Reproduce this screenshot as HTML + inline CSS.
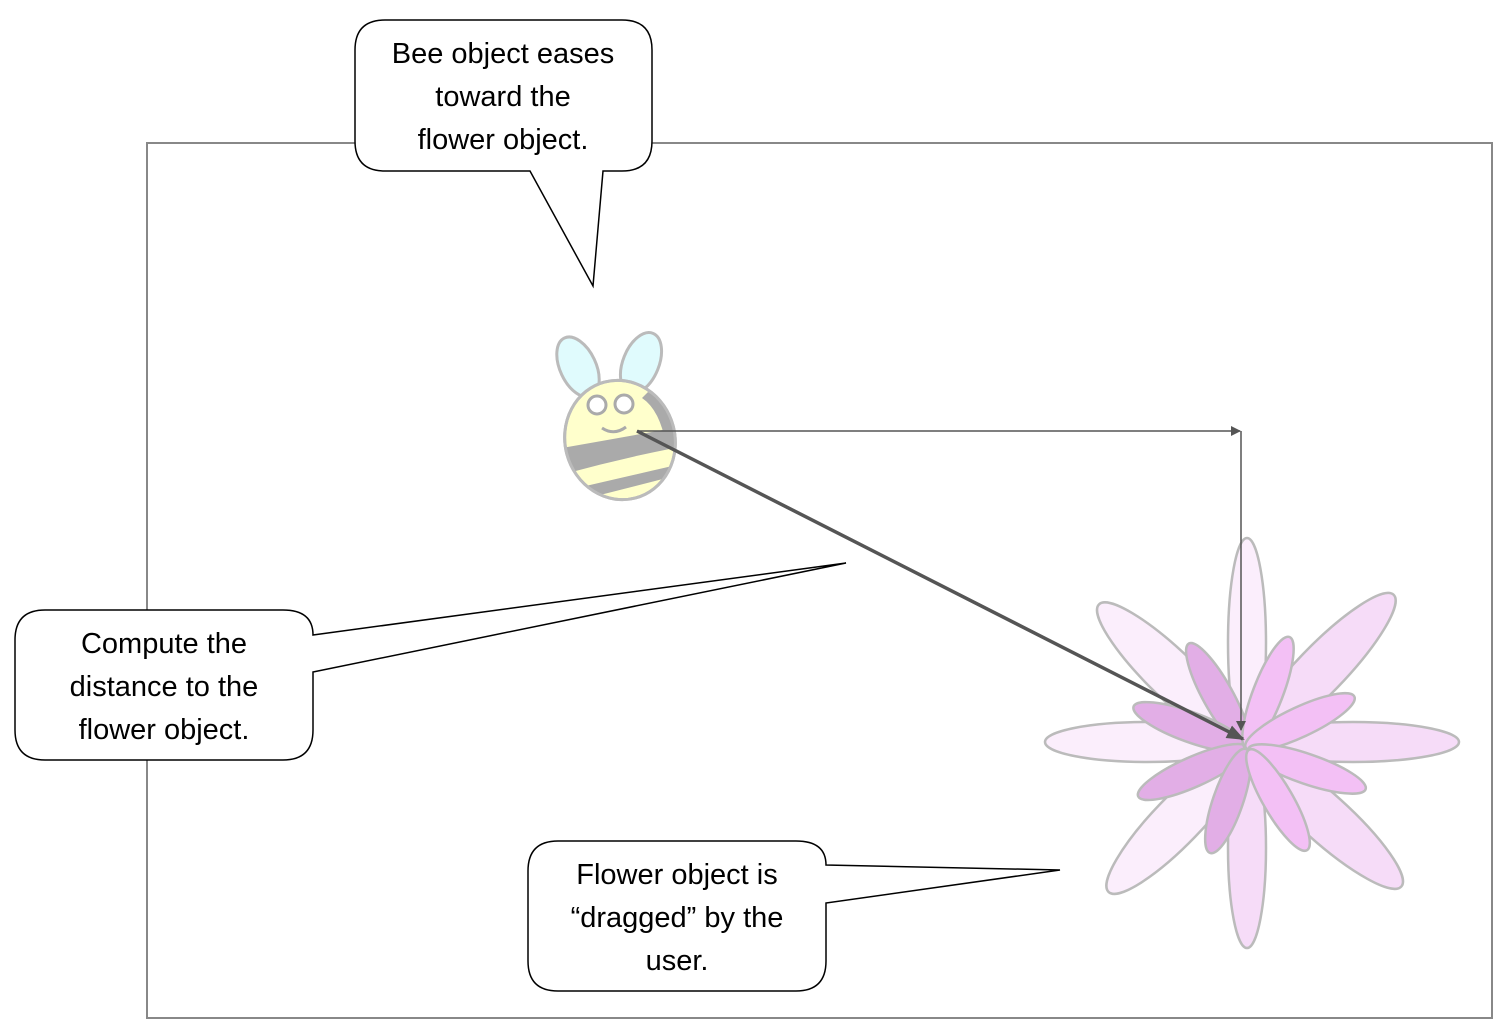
<!DOCTYPE html>
<html><head><style>body{margin:0;background:#fff}svg{display:block}text{font-family:"Liberation Sans",sans-serif;font-size:29px;fill:#000;text-anchor:middle}</style></head>
<body>
<svg width="1500" height="1026" viewBox="0 0 1500 1026" xmlns="http://www.w3.org/2000/svg">
<defs>
<marker id="a" markerWidth="10" markerHeight="10" refX="9" refY="5" orient="auto" markerUnits="userSpaceOnUse"><path d="M0,0 L10,5 L0,10 z" fill="#555"/></marker>
<marker id="b" markerWidth="18" markerHeight="14" refX="16" refY="7" orient="auto" markerUnits="userSpaceOnUse"><path d="M0,0 L18,7 L0,14 z" fill="#555"/></marker>
<clipPath id="bc"><ellipse cx="620" cy="440" rx="54" ry="59" transform="rotate(-15 620 440)"/></clipPath>
</defs>
<rect x="147" y="143" width="1345" height="875" fill="none" stroke="#888" stroke-width="2"/>
<g stroke="#bbb" stroke-width="2.5">
<ellipse cx="1247" cy="643" rx="105" ry="19" transform="rotate(90 1247 643)" fill="#fbeefc"/>
<ellipse cx="1247" cy="848" rx="100" ry="19" transform="rotate(90 1247 848)" fill="#f6dcf8"/>
<ellipse cx="1147" cy="742" rx="102" ry="20" fill="#fbeefc"/>
<ellipse cx="1353" cy="742" rx="106" ry="20" fill="#f6dcf8"/>
<ellipse cx="1173" cy="676" rx="103" ry="24" transform="rotate(44 1173 676)" fill="#fbeefc"/>
<ellipse cx="1320" cy="671" rx="106" ry="24" transform="rotate(-46 1320 671)" fill="#f6dcf8"/>
<ellipse cx="1178" cy="820" rx="100" ry="24" transform="rotate(-46 1178 820)" fill="#fbeefc"/>
<ellipse cx="1324" cy="817" rx="104" ry="24" transform="rotate(42 1324 817)" fill="#f6dcf8"/>
<ellipse cx="1218" cy="696" rx="60" ry="15" transform="rotate(61 1218 696)" fill="#e2aee6"/>
<ellipse cx="1190" cy="727" rx="60" ry="15" transform="rotate(20 1190 727)" fill="#e2aee6"/>
<ellipse cx="1193" cy="772" rx="60" ry="15" transform="rotate(-24 1193 772)" fill="#e2aee6"/>
<ellipse cx="1228" cy="801" rx="55" ry="15" transform="rotate(-71 1228 801)" fill="#e2aee6"/>
<ellipse cx="1268" cy="693" rx="60" ry="15" transform="rotate(-69 1268 693)" fill="#f3c0f5"/>
<ellipse cx="1300" cy="722" rx="60" ry="15" transform="rotate(-25 1300 722)" fill="#f3c0f5"/>
<ellipse cx="1307" cy="769" rx="62" ry="15" transform="rotate(19 1307 769)" fill="#f3c0f5"/>
<ellipse cx="1278" cy="800" rx="58" ry="15" transform="rotate(60 1278 800)" fill="#f3c0f5"/>
</g>
<g stroke="#bbb" stroke-width="3">
<ellipse cx="578" cy="367" rx="18" ry="32" transform="rotate(-25 578 367)" fill="#e0fbfd"/>
<ellipse cx="641" cy="363" rx="18" ry="32" transform="rotate(22 641 363)" fill="#e0fbfd"/>
<ellipse cx="620" cy="440" rx="55" ry="60" transform="rotate(-15 620 440)" fill="#ffffcc"/>
</g>
<g clip-path="url(#bc)" fill="#aaa">
<path d="M550,450 Q620,438 690,425 L690,445 Q620,458 550,478 Z"/>
<path d="M560,492 Q620,478 690,462 L690,472 Q620,490 560,505 Z"/>
<path d="M648,392 Q670,405 680,440 L666,445 Q660,410 642,398 Z"/>
</g>
<ellipse cx="620" cy="440" rx="55" ry="60" transform="rotate(-15 620 440)" fill="none" stroke="#bbb" stroke-width="3"/>
<g fill="#fff" stroke="#aaa" stroke-width="3"><circle cx="597" cy="405" r="9"/><circle cx="624" cy="404" r="9"/></g>
<path d="M602,428 Q614,436 626,427" fill="none" stroke="#aaa" stroke-width="3"/>
<path d="M637,431 L1240,431" stroke="#555" stroke-width="1.5" fill="none" marker-end="url(#a)"/>
<path d="M1241,431 L1241,730" stroke="#555" stroke-width="1.5" fill="none" marker-end="url(#a)"/>
<path d="M637,431 L1243,739" stroke="#555" stroke-width="3.5" fill="none" marker-end="url(#b)"/>
<g fill="#fff" stroke="#000" stroke-width="1.5">
<path d="M385,20 H622 Q652,20 652,50 V141 Q652,171 622,171 H603 L593,286 L530,171 H385 Q355,171 355,141 V50 Q355,20 385,20 Z"/>
<path d="M45,610 H283 Q313,610 313,635 L846,563 L313,672 V730 Q313,760 283,760 H45 Q15,760 15,730 V640 Q15,610 45,610 Z"/>
<path d="M558,841 H796 Q826,841 826,865 L1060,870 L826,903 V961 Q826,991 796,991 H558 Q528,991 528,961 V871 Q528,841 558,841 Z"/>
</g>
<text x="503" y="63">Bee object eases</text>
<text x="503" y="106">toward the</text>
<text x="503" y="149">flower object.</text>
<text x="164" y="653">Compute the</text>
<text x="164" y="696">distance to the</text>
<text x="164" y="739">flower object.</text>
<text x="677" y="884">Flower object is</text>
<text x="677" y="927">“dragged” by the</text>
<text x="677" y="970">user.</text>
</svg>
</body></html>
